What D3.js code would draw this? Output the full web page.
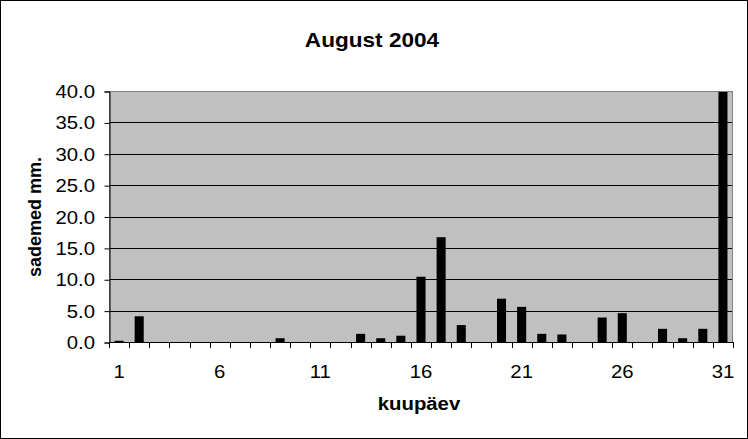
<!DOCTYPE html>
<html><head><meta charset="utf-8">
<script src="https://cdn.jsdelivr.net/npm/d3@7"></script>
<style>body{margin:0;background:#fff}svg{display:block;font-family:Arial,"Liberation Sans",sans-serif}</style>
</head><body>
<svg id="c" width="748" height="439"></svg>
<script>
const days = d3.range(1, 32);
const rain = [0.2,4.1,0,0,0,0,0,0,0.6,0,0,0,1.3,0.6,1.0,10.4,16.7,2.7,0,6.9,5.6,1.3,1.2,0,3.9,4.6,0,2.1,0.6,2.1,40.0];
const yTicks = [0,5,10,15,20,25,30,35,40];
const xLabels = [1,6,11,16,21,26,31];
const title = "August 2004";
const xTitle = "kuupäev";
const yTitle = "sademed mm.";

const svg = d3.select("#c");
const W = 748, H = 439;
const m = {l:109, r:733, t:91, b:342};
const SX = 1.13; // horizontal text stretch

svg.append("rect").attr("x",0.5).attr("y",0.5).attr("width",W-1).attr("height",H-1)
  .attr("fill","#fff").attr("stroke","#000");

const x = d3.scaleBand().domain(days).range([m.l, m.r]).paddingInner(0).paddingOuter(0);
const y = d3.scaleLinear().domain([0,40]).range([m.b, m.t]);

svg.append("rect").attr("x",m.l).attr("y",m.t).attr("width",m.r-m.l).attr("height",m.b-m.t)
  .attr("fill","#c0c0c0");

svg.append("g").selectAll("line").data(yTicks.filter(d=>d>0)).join("line")
  .attr("x1",m.l).attr("x2",m.r).attr("y1",d=>Math.round(y(d))+0.5).attr("y2",d=>Math.round(y(d))+0.5)
  .attr("stroke","#000").attr("stroke-width",1);

const bw = x.bandwidth()*0.45;
svg.append("g").selectAll("rect").data(days).join("rect")
  .attr("x",d=>x(d)+x.bandwidth()/2-bw/2)
  .attr("width",bw)
  .attr("y",(d,i)=>y(rain[i]))
  .attr("height",(d,i)=>y(0)-y(rain[i]))
  .attr("fill","#000");

svg.append("rect").attr("x",m.l+0.5).attr("y",m.t+0.5).attr("width",m.r-m.l-1).attr("height",m.b-m.t)
  .attr("fill","none").attr("stroke","#808080").attr("stroke-width",1);

// y axis
const yAxis = d3.axisLeft(y).tickValues(yTicks).tickFormat("").tickSize(5);
const gy = svg.append("g").attr("transform",`translate(${m.l+0.5},0.5)`).call(yAxis);
gy.selectAll("line,path").attr("stroke","#000");
svg.append("g").selectAll("text").data(yTicks).join("text")
  .attr("transform",d=>`translate(95,${y(d)+7}) scale(${SX},1)`)
  .attr("text-anchor","end").attr("font-size",18).text(d3.format(".1f"));

// x axis
const edges = days.map(d=>x(d)).concat([m.r]);
const gx = svg.append("g");
gx.append("line").attr("x1",m.l).attr("x2",m.r).attr("y1",m.b+0.5).attr("y2",m.b+0.5).attr("stroke","#000");
gx.selectAll("line.t").data(edges).join("line").attr("class","t")
  .attr("x1",d=>Math.round(d)+0.5).attr("x2",d=>Math.round(d)+0.5).attr("y1",m.b).attr("y2",m.b+6).attr("stroke","#000");
gx.selectAll("text").data(xLabels).join("text")
  .attr("transform",d=>`translate(${x(d)+x.bandwidth()/2},378) scale(${SX},1)`)
  .attr("text-anchor","middle").attr("font-size",18).text(d=>d);

svg.append("text").attr("transform",`translate(372,47) scale(${SX},1)`).attr("text-anchor","middle")
  .attr("font-size",20).attr("font-weight","bold").text(title);
svg.append("text").attr("transform",`translate(419,410) scale(${SX},1)`).attr("text-anchor","middle")
  .attr("font-size",18).attr("font-weight","bold").text(xTitle);
svg.append("text").attr("transform","translate(41,217) rotate(-90)").attr("text-anchor","middle")
  .attr("font-size",18).attr("font-weight","bold").text(yTitle);
</script>
</body></html>
